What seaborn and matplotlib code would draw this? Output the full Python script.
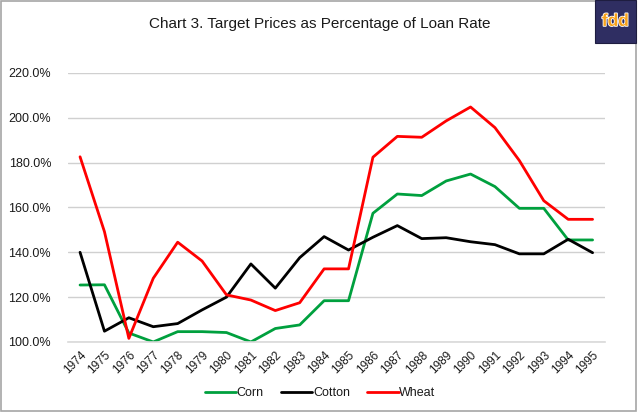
import matplotlib
matplotlib.use("Agg")
import matplotlib.pyplot as plt
import matplotlib.patches as mpatches
import matplotlib.patheffects as pe
import seaborn as sns
import pandas as pd
from matplotlib.ticker import FuncFormatter

years = list(range(1974, 1996))
corn = [125.4, 125.5, 104.0, 100.0, 104.6, 104.6, 104.2, 100.0, 106.0, 107.6, 118.4,
        118.4, 157.4, 166.0, 165.3, 171.8, 174.9, 169.3, 159.6, 159.6, 145.5, 145.5]
cotton = [140.0, 104.8, 110.8, 106.8, 108.2, 114.3, 120.0, 134.8, 124.0, 137.6, 147.0,
          141.0, 146.7, 151.9, 146.1, 146.5, 144.7, 143.4, 139.3, 139.3, 145.8, 139.8]
wheat = [182.6, 149.2, 101.6, 128.4, 144.5, 136.1, 121.0, 118.7, 114.0, 117.5, 132.6,
         132.6, 182.4, 191.7, 191.3, 198.6, 204.8, 195.6, 180.9, 163.0, 154.7, 154.7]
crops = ["Corn", "Cotton", "Wheat"]
colors = ["#00a03e", "#000000", "#ff0000"]

df = pd.DataFrame({
    "Year": years * 3,
    "Crop": ["Corn"] * len(years) + ["Cotton"] * len(years) + ["Wheat"] * len(years),
    "Value": corn + cotton + wheat,
})

sns.set_style("white")
plt.rcParams['font.family'] = ['Liberation Sans', 'DejaVu Sans']
txt = "#1a1a1a"

fig = plt.figure(figsize=(6.4, 4.12), dpi=100)
ax = fig.add_axes([0.106, 0.170, 0.839, 0.653])

sns.lineplot(data=df, x="Year", y="Value", hue="Crop", hue_order=crops,
             palette=dict(zip(crops, colors)), linewidth=2.0, ax=ax, legend=False)

ax.set_xlim(1973.5, 1995.5)
ax.set_ylim(100, 220)
ax.set_yticks(range(100, 221, 20))
ax.yaxis.set_major_formatter(FuncFormatter(lambda v, p: f"{v:.1f}%"))
ax.set_xticks(years)
ax.set_xticklabels([str(y) for y in years], rotation=45, ha="right",
                   rotation_mode="anchor", fontsize=8.5, color=txt)
for lab in ax.get_yticklabels():
    lab.set_fontsize(9)
    lab.set_color(txt)
ax.tick_params(axis="x", length=0, pad=5)
ax.tick_params(axis="y", length=0, pad=12)
ax.set_xlabel("")
ax.set_ylabel("")
ax.grid(axis="y", color="#d0d0d0", linewidth=1.0)
ax.set_axisbelow(True)
for side in ["left", "right", "top"]:
    ax.spines[side].set_visible(False)
ax.spines["bottom"].set_color("#d9d9d9")
ax.spines["bottom"].set_linewidth(1.2)

fig.text(0.5, 0.942, "Chart 3. Target Prices as Percentage of Loan Rate",
         ha="center", va="center", fontsize=11, color=txt)

handles = [plt.Line2D([], [], color=c, linewidth=2.0) for c in colors]
fig.legend(handles, crops, loc="center", bbox_to_anchor=(0.5, 0.045), ncol=3,
           frameon=False, fontsize=9, handlelength=2.5, handletextpad=0.05,
           columnspacing=1.4, labelcolor=txt)

# grey frame
fig.patches.append(mpatches.Rectangle((0.001, 0.002), 0.993, 0.996, transform=fig.transFigure,
                                      facecolor="none", edgecolor="#a6a6a6", linewidth=1.2))

# fdd logo box
fig.patches.append(mpatches.Rectangle((0.930, 0.896), 0.063, 0.104, transform=fig.transFigure,
                                      facecolor="#2f2e62", edgecolor="#1e1d40", linewidth=0.8))
fig.text(0.9615, 0.948, "fdd", ha="center", va="center", fontsize=12.5, fontweight="bold",
         color="#f7a21b", path_effects=[pe.withStroke(linewidth=1.2, foreground="#ffffff")])

fig.savefig("out.png", dpi=100)
